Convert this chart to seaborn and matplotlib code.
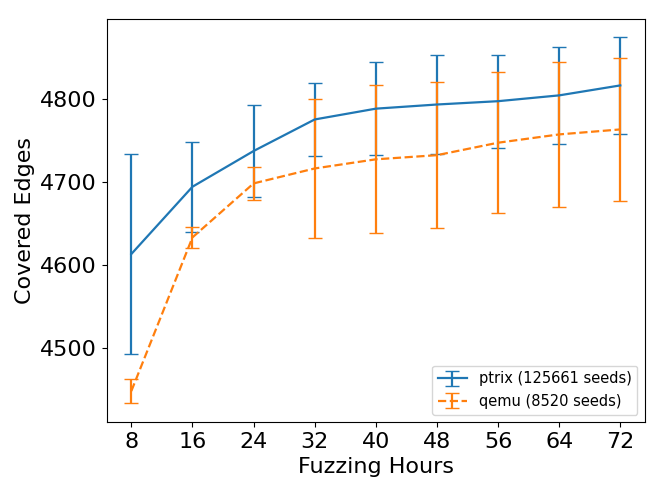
import matplotlib
matplotlib.use("Agg")
import matplotlib.pyplot as plt
import seaborn as sns
import numpy as np

hours = [8, 16, 24, 32, 40, 48, 56, 64, 72]
ptrix_mean = [4613, 4694, 4737, 4775, 4788, 4793, 4797, 4804, 4816]
ptrix_err = [121, 54, 55, 44, 56, 60, 56, 58, 58]
qemu_mean = [4448, 4633, 4698, 4716, 4727, 4732, 4747, 4757, 4763]
qemu_err = [15, 13, 20, 84, 89, 88, 85, 87, 86]
labels = ["ptrix (125661 seeds)", "qemu (8520 seeds)"]

sns.set_palette("tab10")
colors = sns.color_palette("tab10")

fig, ax = plt.subplots(figsize=(6.64, 4.98), dpi=100)
ax.errorbar(hours, ptrix_mean, yerr=ptrix_err, capsize=5, color=colors[0],
            linestyle="-", linewidth=1.6, label=labels[0])
ax.errorbar(hours, qemu_mean, yerr=qemu_err, capsize=5, color=colors[1],
            linestyle="--", linewidth=1.6, label=labels[1])
ax.set_xticks(hours)
ax.set_yticks([4500, 4600, 4700, 4800])
ax.tick_params(labelsize=16)
ax.set_xlabel("Fuzzing Hours", fontsize=16)
ax.set_ylabel("Covered Edges", fontsize=16)
ax.legend(loc="lower right", fontsize=10.5)
fig.subplots_adjust(left=0.161, right=0.971, top=0.962, bottom=0.153)
fig.savefig("out.png", dpi=100)
